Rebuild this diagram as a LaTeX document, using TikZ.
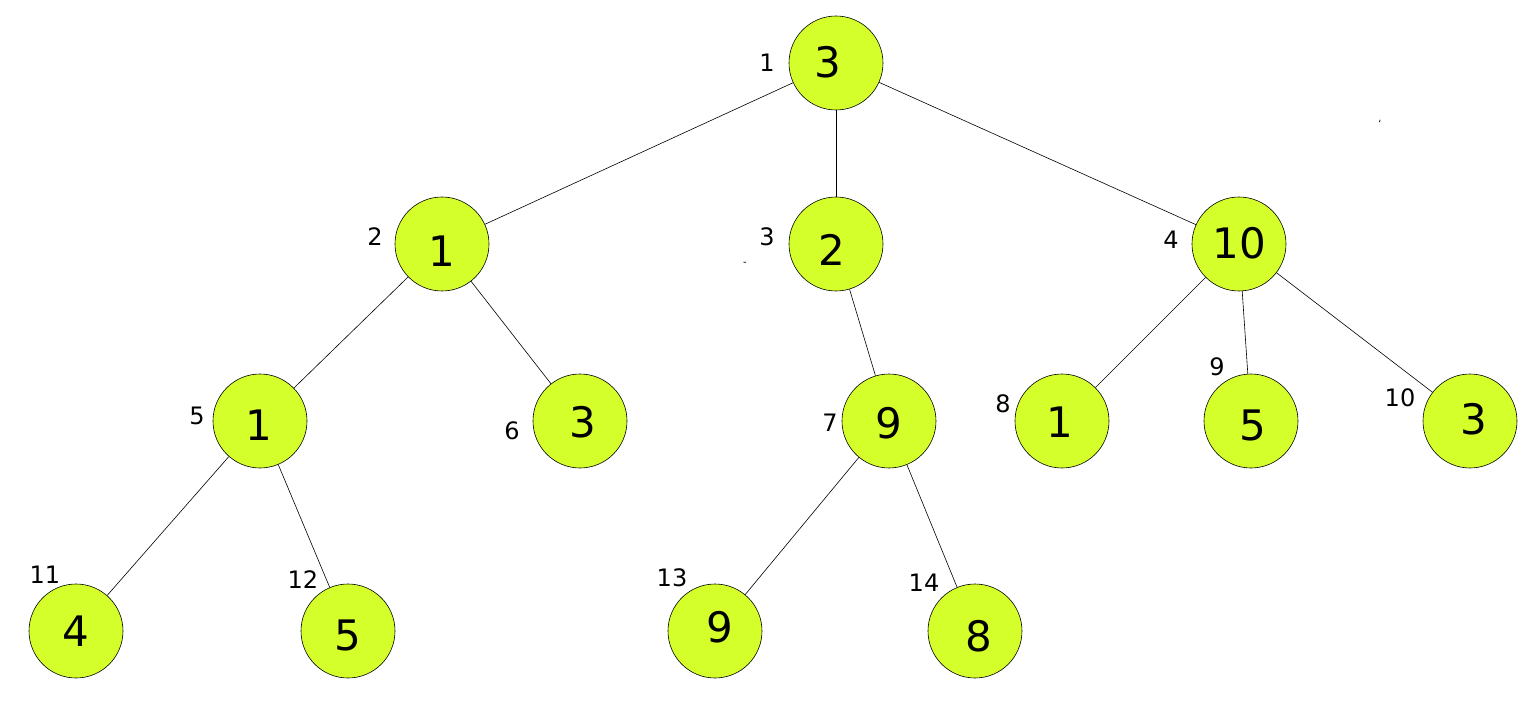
\documentclass[tikz,border=0pt]{standalone}
\usepackage{fontspec}
\setmainfont{DejaVu Sans}
\definecolor{nodefill}{RGB}{212,255,42}
\begin{document}
\begin{tikzpicture}[x=1pt,y=-1pt,
  tnode/.style={circle,draw=black,line width=0.6pt,fill=nodefill,minimum size=94pt,inner sep=0pt},
  val/.style={font=\fontsize{42}{42}\selectfont,inner sep=0pt},
  idx/.style={font=\fontsize{24}{24}\selectfont,inner sep=0pt},
  tinymark/.style={font=\fontsize{10}{10}\selectfont,inner sep=0pt},
  edge/.style={draw=black,line width=0.6pt}]
\useasboundingbox (0,0) rectangle (1535,722);
\node[tnode] (n1) at (836,63) {};
\node[tnode] (n2) at (442,244) {};
\node[tnode] (n3) at (836,244) {};
\node[tnode] (n4) at (1239,244) {};
\node[tnode] (n5) at (260,421) {};
\node[tnode] (n6) at (580,421) {};
\node[tnode] (n7) at (889,421) {};
\node[tnode] (n8) at (1062,421) {};
\node[tnode] (n9) at (1251,421) {};
\node[tnode] (n10) at (1470,421) {};
\node[tnode] (n11) at (76,631) {};
\node[tnode] (n12) at (348,631) {};
\node[tnode] (n13) at (715,631) {};
\node[tnode] (n14) at (975,631) {};
\node[val] (v1) at (828,62) {3};
\node[val] (v2) at (442,251) {1};
\node[val] (v3) at (832,250) {2};
\node[val] (v4) at (1239,243) {10};
\node[val] (v5) at (259,425) {1};
\node[val] (v6) at (583,422) {3};
\node[val] (v7) at (889,423) {9};
\node[val] (v8) at (1060,422) {1};
\node[val] (v9) at (1253,425) {5};
\node[val] (v10) at (1474,419) {3};
\node[val] (v11) at (76,631) {4};
\node[val] (v12) at (348,635) {5};
\node[val] (v13) at (720,627) {9};
\node[val] (v14) at (979,636) {8};
\node[idx] (i1) at (767,63) {1};
\node[idx] (i2) at (375,237) {2};
\node[idx] (i3) at (767,237) {3};
\node[idx] (i4) at (1171,240) {4};
\node[idx] (i5) at (197,416) {5};
\node[idx] (i6) at (512,431) {6};
\node[idx] (i7) at (830,423) {7};
\node[idx] (i8) at (1003,404) {8};
\node[idx] (i9) at (1217,367) {9};
\node[idx] (i10) at (1400,398) {10};
\node[idx] (i11) at (45,575) {11};
\node[idx] (i12) at (303,580) {12};
\node[idx] (i13) at (672,578) {13};
\node[idx] (i14) at (924,583) {14};
\node[tinymark] (m1) at (745,264) {-};
\node[tinymark] (m2) at (1380,124) {`};
\path[edge] (n1) -- (n2);
\path[edge] (n1) -- (n3);
\path[edge] (n1) -- (n4);
\path[edge] (n2) -- (n5);
\path[edge] (n2) -- (n6);
\path[edge] (n3) -- (n7);
\path[edge] (n4) -- (n8);
\path[edge] (n4) -- (n9);
\path[edge] (n4) -- (n10);
\path[edge] (n5) -- (n11);
\path[edge] (n5) -- (n12);
\path[edge] (n7) -- (n13);
\path[edge] (n7) -- (n14);
\end{tikzpicture}
\end{document}
